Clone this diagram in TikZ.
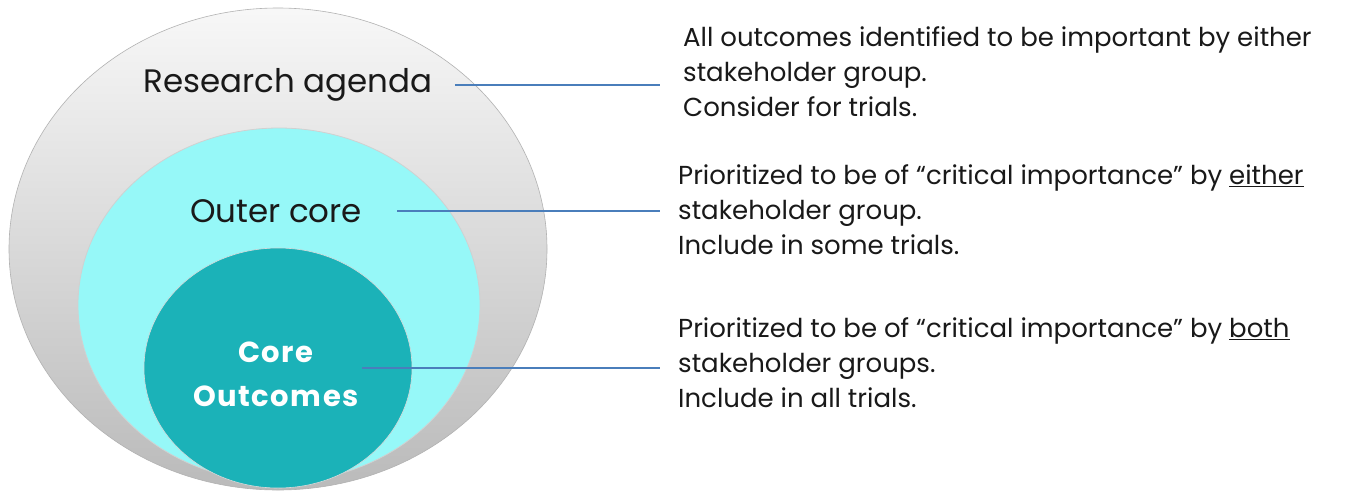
\documentclass[tikz,border=0pt]{standalone}
\usepackage{fontspec}
\setmainfont{Poppins}
\newfontfamily\corefont[LetterSpace=5]{Poppins}
\usetikzlibrary{shapes.geometric}
\definecolor{linkblue}{RGB}{74,126,187}
\definecolor{midcyan}{RGB}{150,248,248}
\definecolor{coreteal}{RGB}{27,178,184}
\definecolor{txt}{RGB}{25,25,25}
\tikzset{
  area/.style={ellipse, inner sep=0pt},
  biglabel/.style={font=\fontsize{32.5}{38}\selectfont, text=txt, inner ysep=0pt},
  desc/.style={font=\fontsize{26}{35}\selectfont, text=txt, align=left, anchor=west, inner ysep=0pt},
  link/.style={draw=linkblue, line width=1.4pt}
}
\begin{document}
\begin{tikzpicture}[x=1pt,y=-1pt]
\useasboundingbox (0,0) rectangle (1347,491);
\fill[white] (0,0) rectangle (1347,491);
% nested areas
\node[area, minimum width=538pt, minimum height=482pt, top color=white!97!black, bottom color=black!27, draw=black!30, line width=0.6pt] (outer) at (278,249) {};
\node[area, minimum width=402pt, minimum height=354pt, fill=midcyan, draw=black!18, line width=0.8pt] (middle) at (279,305) {};
\node[area, minimum width=268pt, minimum height=240pt, fill=coreteal, draw=black!15, line width=0.6pt] (inner) at (278,368) {};
% labels
\node[biglabel, inner xsep=22pt] (ra) at (288,85) {Research agenda};
\node[biglabel, inner xsep=35pt] (oc) at (276,211) {Outer core};
\node[font=\fontsize{29}{44}\corefont\bfseries, text=white, align=center] (co) at (276,374) {Core\\Outcomes};
\coordinate (cstart) at (362,368);
% descriptions
\node[desc, inner xsep=23pt] (t1) at (660,72) {All outcomes identified to be important by either\\stakeholder group.\\Consider for trials.};
\node[desc, inner xsep=18pt] (t2) at (660,210) {Prioritized to be of “critical importance” by \underline{either}\\stakeholder group.\\Include in some trials.};
\node[desc, inner xsep=18pt] (t3) at (660,363) {Prioritized to be of “critical importance” by \underline{both}\\stakeholder groups.\\Include in all trials.};
% connectors
\draw[link] (ra.east) -- (ra.east -| t1.west);
\draw[link] (oc.east) -- (oc.east -| t2.west);
\draw[link] (cstart) -- (cstart -| t3.west);
\end{tikzpicture}
\end{document}
